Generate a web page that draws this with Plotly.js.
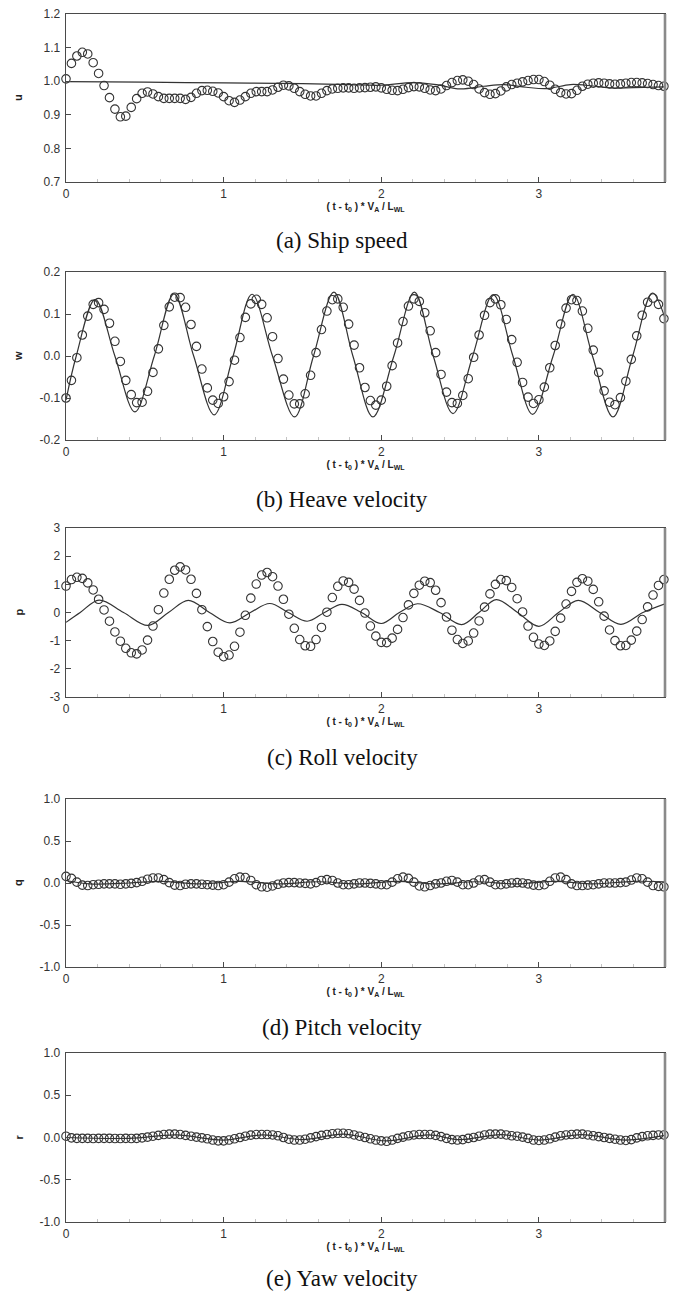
<!DOCTYPE html>
<html>
<head>
<meta charset="utf-8">
<script src="https://cdn.plot.ly/plotly-3.0.1.min.js"></script>
<style>
  html, body { margin: 0; padding: 0; background: #ffffff; }
  #chart { width: 676px; height: 1292px; }
</style>
</head>
<body>
<div id="chart"></div>
<script>
// Measured series: sampled at a constant interval starting at t = 0
const tStep = 1 / 29;

// (a) ship speed u
const uExp = [
  1.007, 1.053, 1.075, 1.086, 1.081, 1.055, 1.023, 0.987, 0.951, 0.917,
  0.894, 0.896, 0.922, 0.948, 0.964, 0.968, 0.962, 0.954, 0.949, 0.949,
  0.949, 0.949, 0.946, 0.952, 0.964, 0.972, 0.973, 0.970, 0.965, 0.954,
  0.942, 0.937, 0.944, 0.954, 0.964, 0.969, 0.969, 0.969, 0.974, 0.982,
  0.988, 0.986, 0.979, 0.969, 0.961, 0.956, 0.956, 0.964,
  0.972, 0.977, 0.979, 0.980, 0.980, 0.979, 0.980, 0.981, 0.982, 0.983,
  0.980, 0.976, 0.973, 0.972, 0.976, 0.981, 0.984, 0.983, 0.979, 0.974,
  0.972, 0.977, 0.987, 0.996, 1.002, 1.004, 1.000, 0.990, 0.977, 0.966,
  0.961, 0.963, 0.971, 0.983, 0.990, 0.994, 0.998, 1.002, 1.005, 1.005,
  0.999, 0.988, 0.976, 0.966, 0.962, 0.963, 0.973, 0.985, 0.991, 0.994,
  0.995, 0.994, 0.992, 0.991, 0.992, 0.994, 0.996, 0.996, 0.995, 0.993,
  0.990, 0.987, 0.985
];
const tSimU = [0, 0.5, 1.0, 1.5, 1.8, 2.0, 2.2, 2.35, 2.5, 2.65, 2.78, 2.92, 3.05, 3.2, 3.3, 3.45, 3.6, 3.8];
const uSim  = [0.999, 0.997, 0.995, 0.993, 0.990, 0.988, 0.996, 0.990, 0.977, 0.985, 0.990, 0.982, 0.978, 0.990, 0.988, 0.980, 0.981, 0.983];

// (b) heave velocity w
const wExp = [
  -0.100, -0.058, -0.004, 0.050, 0.095, 0.123, 0.127, 0.111, 0.078, 0.035,
  -0.013, -0.058, -0.092, -0.111, -0.110, -0.084, -0.039, 0.017, 0.073, 0.117,
  0.140, 0.139, 0.116, 0.075, 0.023, -0.031, -0.076, -0.105, -0.113, -0.097,
  -0.061, -0.010, 0.044, 0.092, 0.124, 0.135, 0.123, 0.091, 0.046, -0.006,
  -0.055, -0.093, -0.114, -0.114, -0.090, -0.046, 0.008, 0.063, 0.107, 0.134,
  0.136, 0.116, 0.076, 0.026, -0.028, -0.075, -0.106, -0.117, -0.105, -0.072,
  -0.023, 0.031, 0.082, 0.119, 0.136, 0.130, 0.103, 0.060, 0.008, -0.044,
  -0.086, -0.111, -0.113, -0.094, -0.054, -0.003, 0.050, 0.097, 0.127, 0.136,
  0.122, 0.087, 0.039, -0.015, -0.063, -0.098, -0.113, -0.104, -0.074, -0.028,
  0.025, 0.076, 0.114, 0.134, 0.132, 0.107, 0.066, 0.014, -0.039, -0.083,
  -0.110, -0.116, -0.099, -0.060, -0.008, 0.048, 0.097, 0.128, 0.138, 0.123,
  0.089
];
const tSimW = [0, 0.065, 0.185, 0.31, 0.437, 0.56, 0.685, 0.81, 0.94, 1.06, 1.18, 1.31, 1.45, 1.57, 1.70, 1.82,
               1.947, 2.08, 2.21, 2.33, 2.455, 2.58, 2.71, 2.835, 2.96, 3.09, 3.216, 3.34, 3.47, 3.595, 3.72, 3.8];
const wSim  = [-0.105, 0.0, 0.135, 0.0, -0.133, 0.0, 0.148, 0.0, -0.140, 0.0, 0.147, 0.0, -0.145, 0.0, 0.152, 0.0,
               -0.145, 0.0, 0.152, 0.0, -0.137, 0.0, 0.146, 0.0, -0.139, 0.0, 0.147, 0.0, -0.145, 0.0, 0.150, 0.09];

// (c) roll velocity p
const pExp = [
  0.94, 1.17, 1.25, 1.21, 1.05, 0.80, 0.47, 0.09, -0.31, -0.69,
  -1.02, -1.27, -1.43, -1.47, -1.33, -0.98, -0.48, 0.10, 0.69, 1.18,
  1.50, 1.62, 1.51, 1.18, 0.68, 0.10, -0.50, -1.03, -1.41, -1.57,
  -1.51, -1.20, -0.70, -0.10, 0.51, 1.01, 1.33, 1.42, 1.27, 0.94,
  0.47, -0.06, -0.56, -0.96, -1.18, -1.20, -0.96, -0.53, 0.01, 0.53,
  0.93, 1.12, 1.07, 0.83, 0.43, -0.02, -0.48, -0.84, -1.06, -1.07,
  -0.91, -0.60, -0.18, 0.27, 0.68, 0.97, 1.11, 1.06, 0.79, 0.35,
  -0.16, -0.63, -0.96, -1.10, -1.01, -0.73, -0.30, 0.19, 0.66, 1.00,
  1.17, 1.13, 0.89, 0.49, 0.02, -0.48, -0.88, -1.12, -1.17, -1.01,
  -0.67, -0.20, 0.30, 0.75, 1.07, 1.20, 1.11, 0.82, 0.38, -0.13,
  -0.62, -1.00, -1.18, -1.17, -0.98, -0.66, -0.25, 0.20, 0.62, 0.96,
  1.17
];
const tSimP = [0, 0.09, 0.21, 0.365, 0.52, 0.65, 0.776, 0.91, 1.04, 1.17, 1.293, 1.41, 1.53, 1.64, 1.75, 1.875,
               2.0, 2.115, 2.23, 2.37, 2.51, 2.62, 2.73, 2.865, 3.0, 3.125, 3.25, 3.385, 3.52, 3.66, 3.8];
const pSim  = [-0.35, 0.0, 0.44, 0.0, -0.46, 0.0, 0.43, 0.0, -0.37, 0.0, 0.32, 0.0, -0.31, 0.0, 0.29, 0.0,
               -0.39, 0.0, 0.31, 0.0, -0.43, 0.0, 0.46, 0.0, -0.49, 0.0, 0.43, 0.0, -0.42, 0.0, 0.31];

// (d) pitch velocity q
const qExp = [
  0.079, 0.055, 0.010, -0.025, -0.030, -0.020, -0.015, -0.010, -0.010, -0.010,
  -0.015, -0.010, -0.005, 0.005, 0.020, 0.045, 0.060, 0.060, 0.040, 0.005,
  -0.025, -0.030, -0.015, -0.010, -0.010, -0.015, -0.020, -0.025, -0.030, -0.020,
  0.010, 0.050, 0.070, 0.065, 0.030, -0.020, -0.045, -0.050, -0.035, -0.015,
  0.000, 0.005, 0.005, 0.000, -0.005, -0.010, 0.005, 0.030, 0.040, 0.030,
  0.000, -0.020, -0.020, -0.010, 0.000, 0.000, -0.005, -0.010, -0.020, -0.020,
  0.010, 0.050, 0.070, 0.055, 0.010, -0.035, -0.045, -0.030, -0.010, 0.000,
  0.020, 0.030, 0.010, -0.020, -0.020, 0.000, 0.035, 0.040, 0.010, -0.020,
  -0.020, -0.010, 0.000, 0.005, 0.000, -0.010, -0.025, -0.030, -0.020, 0.020,
  0.060, 0.070, 0.040, -0.010, -0.030, -0.030, -0.025, -0.020, -0.010, 0.000,
  0.000, 0.000, 0.005, 0.010, 0.035, 0.060, 0.050, 0.010, -0.030, -0.040,
  -0.045
];
const tSimQ = [0, 0.15, 0.4, 0.6, 0.85, 1.1, 1.35, 1.6, 1.85, 2.1, 2.35, 2.6, 2.85, 3.1, 3.35, 3.6, 3.8];
const qSim  = [0.03, -0.01, 0.0, 0.02, -0.01, 0.02, -0.01, 0.015, -0.01, 0.02, -0.01, 0.015, -0.01, 0.02, -0.01, 0.02, 0.015];

// (e) yaw velocity r
const rExp = [
  0.015, -0.005, -0.010, -0.010, -0.010, -0.012, -0.010, -0.010, -0.010, -0.012,
  -0.012, -0.010, -0.012, -0.010, -0.005, 0.005, 0.015, 0.025, 0.035, 0.040,
  0.040, 0.035, 0.025, 0.015, 0.005, -0.005, -0.015, -0.030, -0.040, -0.040,
  -0.030, -0.015, 0.000, 0.015, 0.028, 0.035, 0.035, 0.035, 0.030, 0.020,
  0.000, -0.020, -0.030, -0.030, -0.020, -0.005, 0.010, 0.025, 0.035, 0.045,
  0.050, 0.050, 0.045, 0.030, 0.015, 0.000, -0.015, -0.030, -0.040, -0.045,
  -0.030, -0.010, 0.005, 0.020, 0.030, 0.035, 0.035, 0.035, 0.025, 0.010,
  -0.010, -0.025, -0.030, -0.025, -0.010, 0.000, 0.015, 0.030, 0.040, 0.040,
  0.040, 0.030, 0.020, 0.015, 0.005, -0.010, -0.030, -0.035, -0.030, -0.015,
  0.005, 0.020, 0.030, 0.035, 0.040, 0.040, 0.030, 0.020, 0.010, 0.000,
  -0.010, -0.020, -0.030, -0.035, -0.025, -0.005, 0.010, 0.020, 0.025, 0.030,
  0.030
];
const tSimR = [0, 0.4, 0.7, 1.0, 1.25, 1.5, 1.76, 2.03, 2.3, 2.5, 2.76, 3.0, 3.27, 3.55, 3.8];
const rSim  = [0.0, -0.01, 0.03, -0.03, 0.03, -0.025, 0.04, -0.04, 0.03, -0.025, 0.035, -0.03, 0.035, -0.03, 0.025];

// Tick labels
const xTickVals = [0, 1, 2, 3];
const xTickText = ['0', '1', '2', '3'];
const uTickVals = [0.7, 0.8, 0.9, 1.0, 1.1, 1.2];
const uTickText = ['0.7', '0.8', '0.9', '1.0', '1.1', '1.2'];
const wTickVals = [-0.2, -0.1, 0, 0.1, 0.2];
const wTickText = ['-0.2', '-0.1', '0.0', '0.1', '0.2'];
const pTickVals = [-3, -2, -1, 0, 1, 2, 3];
const pTickText = ['-3', '-2', '-1', '0', '1', '2', '3'];
const qrTickVals = [-1, -0.5, 0, 0.5, 1];
const qrTickText = ['-1.0', '-0.5', '0.0', '0.5', '1.0'];

// Labels
const symbols  = ['u', 'w', 'p', 'q', 'r'];
const captions = ['(a) Ship speed', '(b) Heave velocity', '(c) Roll velocity', '(d) Pitch velocity', '(e) Yaw velocity'];
const xTitle   = '( t - t<sub>0</sub> ) * V<sub>A</sub> / L<sub>WL</sub>';

// ---- page geometry (pixels) ----
const W = 676, H = 1292;
const plotLeft = 66, plotRight = 665;
const panels = [
  { exp: uExp, tSim: tSimU, sim: uSim, range: [0.7, 1.2], tv: uTickVals, tt: uTickText, top: 14,   bottom: 182,  capY: 241 },
  { exp: wExp, tSim: tSimW, sim: wSim, range: [-0.2, 0.2], tv: wTickVals, tt: wTickText, top: 272,  bottom: 440,  capY: 499 },
  { exp: pExp, tSim: tSimP, sim: pSim, range: [-3, 3],     tv: pTickVals, tt: pTickText, top: 528,  bottom: 697,  capY: 757 },
  { exp: qExp, tSim: tSimQ, sim: qSim, range: [-1, 1],     tv: qrTickVals, tt: qrTickText, top: 799, bottom: 967,  capY: 1027 },
  { exp: rExp, tSim: tSimR, sim: rSim, range: [-1, 1],     tv: qrTickVals, tt: qrTickText, top: 1053, bottom: 1222, capY: 1278 }
];

const sans = 'Liberation Sans, Arial, Helvetica, sans-serif';
const serif = 'Liberation Serif, Times New Roman, serif';
const ink = '#333333';
const frame = '#4a4a4a';

const traces = [];
const layout = {
  width: W, height: H,
  margin: { l: 0, r: 0, t: 0, b: 0 },
  paper_bgcolor: '#ffffff',
  plot_bgcolor: '#ffffff',
  showlegend: false,
  annotations: [],
  shapes: []
};

panels.forEach((p, k) => {
  const s = k === 0 ? '' : String(k + 1);
  const xa = 'x' + s, ya = 'y' + s;

  // simulation curve
  traces.push({
    type: 'scatter', mode: 'lines',
    x: p.tSim, y: p.sim,
    xaxis: xa, yaxis: ya,
    line: { shape: 'spline', smoothing: 1, color: ink, width: 1.2 },
    hoverinfo: 'skip'
  });
  // measured points
  traces.push({
    type: 'scatter', mode: 'markers',
    x0: 0, dx: tStep, y: p.exp,
    xaxis: xa, yaxis: ya,
    cliponaxis: false,
    marker: { symbol: 'circle-open', size: 8.5, color: ink, line: { width: 1.1, color: ink } },
    hoverinfo: 'skip'
  });

  layout['xaxis' + s] = {
    domain: [plotLeft / W, plotRight / W],
    range: [0, 3.8],
    anchor: ya,
    showline: true, mirror: true, linecolor: frame, linewidth: 1.3,
    ticks: 'inside', ticklen: 5, tickwidth: 1, tickcolor: frame,
    tickmode: 'array', tickvals: xTickVals, ticktext: xTickText,
    tickfont: { family: sans, size: 12, color: ink },
    minor: { tickmode: 'linear', tick0: 0, dtick: 0.2, ticks: 'inside', ticklen: 3, tickcolor: '#c4c4c4', showgrid: false },
    showgrid: false, zeroline: false,
    title: { text: xTitle, font: { family: sans, size: 10, color: '#222', weight: 700 }, standoff: 3 }
  };
  layout['yaxis' + s] = {
    domain: [1 - p.bottom / H, 1 - p.top / H],
    range: p.range,
    anchor: xa,
    showline: true, mirror: true, linecolor: frame, linewidth: 1.3,
    ticks: 'inside', ticklen: 5, tickwidth: 1, tickcolor: frame,
    tickmode: 'array', tickvals: p.tv, ticktext: p.tt,
    tickfont: { family: sans, size: 12, color: ink },
    ticklabelstandoff: 2,
    showgrid: false, zeroline: false
  };

  // heavier right-hand frame edge
  layout.shapes.push({
    type: 'line', xref: xa + ' domain', yref: ya + ' domain',
    x0: 1, x1: 1, y0: 0, y1: 1,
    line: { color: '#8a8a8a', width: 2.6 }, layer: 'above'
  });

  // variable symbol on the left
  layout.annotations.push({
    xref: 'paper', yref: 'paper',
    x: 18 / W, y: 1 - ((p.top + p.bottom) / 2) / H,
    xanchor: 'center', yanchor: 'middle',
    text: symbols[k], textangle: -90, showarrow: false,
    font: { family: sans, size: 11, color: '#222', weight: 700 }
  });

  // panel caption
  layout.annotations.push({
    xref: 'paper', yref: 'paper',
    x: 342 / W, y: 1 - p.capY / H,
    xanchor: 'center', yanchor: 'middle',
    text: captions[k], showarrow: false,
    font: { family: serif, size: 23, color: '#111' }
  });
});

Plotly.newPlot('chart', traces, layout, { displayModeBar: false, staticPlot: true });
</script>
</body>
</html>
